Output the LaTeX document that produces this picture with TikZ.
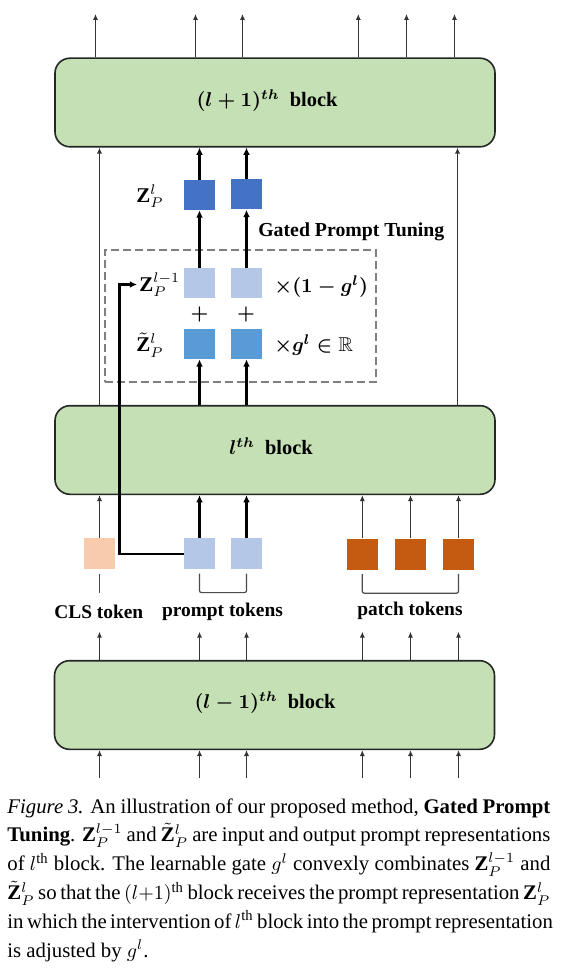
\documentclass[tikz,border=0pt]{standalone}
\usepackage{amsmath,amssymb}
\usepackage{fontspec}
\setmainfont{Liberation Serif}
\usetikzlibrary{arrows.meta,calc}
\definecolor{blockgreen}{HTML}{C5E0B4}
\definecolor{zdark}{HTML}{4472C4}
\definecolor{zlight}{HTML}{B4C7E7}
\definecolor{zmid}{HTML}{5B9BD5}
\definecolor{clsc}{HTML}{F8CBAD}
\definecolor{patchc}{HTML}{C55A11}
\definecolor{dashc}{HTML}{7F7F7F}
\newcommand{\capline}[1]{\makebox[271.5pt][s]{#1}}
\begin{document}
\begin{tikzpicture}[x=0.5pt,y=-0.5pt,
  blk/.style={draw=black!85, line width=0.8pt, fill=blockgreen, rounded corners=7.5pt,
    minimum width=220pt, minimum height=44.3pt, inner sep=0pt},
  sq/.style={minimum width=15.5pt, minimum height=15pt, inner sep=0pt, draw=none},
  tarrow/.style={draw=black!80, line width=0.6pt, -{Latex[length=3pt,width=2.6pt]}},
  karrow/.style={draw=black, line width=1.2pt, -{Latex[length=3.6pt,width=3.4pt]}},
  tline/.style={draw=black!70, line width=0.6pt},
  brk/.style={draw=black!70, line width=0.6pt, rounded corners=1pt},
  lab/.style={inner sep=1pt, font=\fontsize{10}{12}\selectfont\bfseries\boldmath},
  zlab/.style={inner sep=1pt, font=\fontsize{10.5}{12}\selectfont},
  blab/.style={inner sep=1pt, font=\fontsize{10.2}{12}\selectfont\bfseries\boldmath},
  tok/.style={inner sep=1pt, font=\fontsize{9.7}{12}\selectfont\bfseries},
  dashbox/.style={draw=dashc, line width=1pt, dash pattern=on 4pt off 2pt,
    minimum width=135.5pt, minimum height=65.8pt, inner sep=0pt}
]
\useasboundingbox[fill=white] (0,0) rectangle (566,973);

% blocks
\node[blk] (top) at (275,102.5) {};
\node[blab] (toplab) at (267,101) {$(l+1)^{th}$\ \ block};
\node[blk] (mid) at (275,450) {};
\node[blab] (midlab) at (271,446) {$l^{th}$\ \ block};
\node[blk] (bot) at (274.5,705) {};
\node[blab] (botlab) at (265,703) {$(l-1)^{th}$\ \ block};

% gated prompt tuning dashed box
\node[dashbox] (gpt) at (240.5,315.8) {};
\node[tok, font=\fontsize{9.9}{12}\selectfont\bfseries] (gptlab) at (351.3,231.5) {Gated Prompt Tuning};

% prompt squares
\node[sq, fill=zdark] (za) at (199.5,195) {};
\node[sq, fill=zdark] (zb) at (246.5,194.5) {};
\node[sq, fill=zlight] (pa) at (199.5,283.3) {};
\node[sq, fill=zlight] (pb) at (246.5,283.3) {};
\node[sq, fill=zmid] (ta) at (199.5,344) {};
\node[sq, fill=zmid] (tb) at (246.5,344) {};

% labels
\node[zlab] (zl) at (150,196) {$\mathbf{Z}_P^{l}$};
\node[zlab, anchor=west] (zl1) at (137,284.5) {$\mathbf{Z}_P^{l-1}$};
\node[zlab] (zt) at (150,345) {$\tilde{\mathbf{Z}}_P^{l}$};
\node[lab, anchor=west] (m1) at (272,287) {$\times(1-g^l)$};
\node[lab, anchor=west] (m2) at (272,345) {$\times g^l\in\mathbb{R}$};
\node[lab] (pl1) at (199.5,314) {$+$};
\node[lab] (pl2) at (246,314) {$+$};

% tokens
\node[sq, fill=clsc, minimum height=15.5pt] (cls) at (99.5,553.7) {};
\node[sq, fill=zlight, minimum height=15.5pt] (p1) at (199.5,553.7) {};
\node[sq, fill=zlight, minimum height=15.5pt] (p2) at (246.5,553.7) {};
\node[sq, fill=patchc, minimum height=15.5pt] (t1) at (362.3,554.3) {};
\node[sq, fill=patchc, minimum height=15.5pt] (t2) at (410.5,554) {};
\node[sq, fill=patchc, minimum height=15.5pt] (t3) at (458.5,554) {};

\node[tok] (clslab) at (98.8,612) {CLS token};
\node[tok] (prlab) at (222.5,612) {prompt tokens};
\node[tok] (palab) at (410,611) {patch tokens};

% free ends
\coordinate (topout) at (0,14);
\coordinate (botout) at (0,631.7);
\coordinate (botin) at (0,778);
\coordinate (fbx) at (119.3,0);

% outputs of top block
\foreach \n in {cls,p1,p2,t1,t2,t3}
  \draw[tarrow] ([xshift=-2pt]\n.north |- top.north) -- ([xshift=-2pt]\n.north |- topout);

% into top block
\draw[tarrow] (cls.north |- mid.north) -- (cls.north |- top.south);
\draw[tarrow] ([xshift=-0.5pt]t3.north |- mid.north) -- ([xshift=-0.5pt]t3.north |- top.south);
\draw[karrow] (za.north) -- (za.north |- top.south);
\draw[karrow] (zb.north) -- (zb.north |- top.south);

% gated prompt
\draw[karrow] (pa.north) -- (za.south);
\draw[karrow] (pb.north) -- (zb.south);
\draw[karrow] (ta.south |- mid.north) -- (ta.south);
\draw[karrow] (tb.south |- mid.north) -- (tb.south);

% tokens into middle block
\draw[tarrow] (cls.north) -- (cls.north |- mid.south);
\draw[karrow] (p1.north) -- (p1.north |- mid.south);
\draw[karrow] (p2.north) -- (p2.north |- mid.south);
\draw[tarrow] (t1.north) -- (t1.north |- mid.south);
\draw[tarrow] (t2.north) -- (t2.north |- mid.south);
\draw[tarrow] (t3.north) -- (t3.north |- mid.south);

% feedback
\draw[karrow] (p1.west) -- (p1.west -| fbx) -- (fbx |- zl1.west) -- (zl1.west);

% brackets
\draw[tline] ([yshift=-2pt]cls.south) -- ++(0,19);
\draw[brk] ([yshift=-2pt]p1.south) -- ++(0,19) -| ([yshift=-2pt]p2.south);
\draw[brk] ([yshift=-2pt]t1.south) -- ++(0,19) -| ([yshift=-2pt]t3.south);

% bottom block arrows
\foreach \n in {cls,p1,p2,t1,t2,t3} {
  \draw[tarrow] (\n.north |- bot.north) -- (\n.north |- botout);
  \draw[tarrow] (\n.north |- botin) -- (\n.north |- bot.south);
}

% caption
\node[anchor=north west, inner sep=0pt, align=left,
  font=\fontsize{10.4}{14.4}\selectfont] (cap) at (7,798) {%
\capline{\textit{Figure 3.} An illustration of our proposed method, \textbf{Gated Prompt}}\\
\capline{\textbf{Tuning}. $\mathbf{Z}_P^{l-1}$ and $\tilde{\mathbf{Z}}_P^{l}$ are input and output prompt representations}\\
\capline{of $l^{\text{th}}$ block. The learnable gate $g^l$ convexly combinates $\mathbf{Z}_P^{l-1}$ and}\\
\capline{$\tilde{\mathbf{Z}}_P^{l}$ so that the $(l{+}1)^{\text{th}}$ block receives the prompt representation $\mathbf{Z}_P^{l}$}\\
\capline{in which the intervention of $l^{\text{th}}$ block into the prompt representation}\\
is adjusted by $g^l$.};
\end{tikzpicture}
\end{document}
